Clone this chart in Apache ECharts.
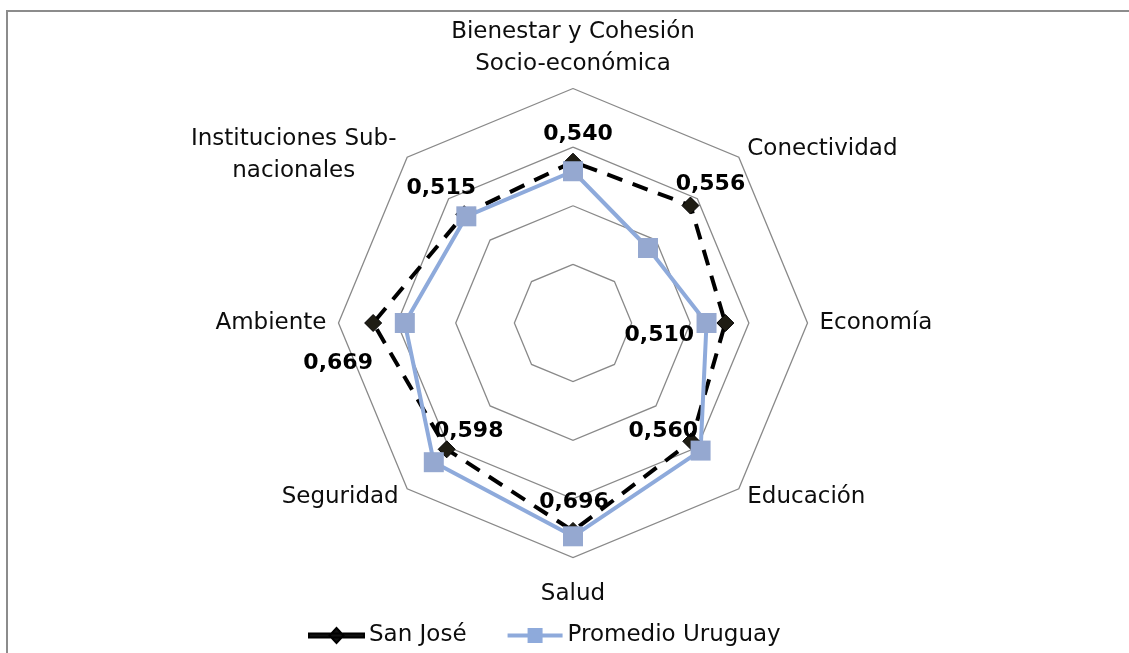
<!DOCTYPE html>
<html><head><meta charset="utf-8">
<script src="https://cdn.jsdelivr.net/npm/echarts@6/dist/echarts.min.js"></script>
<style>html,body{margin:0;padding:0;background:#fff}#c{width:1129px;height:653px}</style>
</head><body><div id="c"></div>
<script>
// Data (clockwise from top, as in the reference)
const categories = ['Bienestar y Cohesión\nSocio-económica', 'Conectividad', 'Economía', 'Educación', 'Salud', 'Seguridad', 'Ambiente', 'Instituciones Sub-\nnacionales'];
const sanJose = [0.540, 0.556, 0.510, 0.560, 0.696, 0.598, 0.669, 0.515];
const promedioUruguay = [0.508, 0.355, 0.447, 0.604, 0.714, 0.659, 0.563, 0.505];
const seriesNames = ['San José', 'Promedio Uruguay'];
const axisMax = 0.785;

// Styles / label placement (offsets of each San José label from its marker, clockwise order)
const labelOffsets = [[5, -27], [20, -21], [-66, 12], [-28, -10], [1, -29], [22, -18], [-35, 40], [-23, -26]];
const FONT = 'DejaVu Sans';
const NAME_SIZE = 23;
const TXT = '#0d0d0d';

// ECharts lays indicators counter-clockwise: reorder
const order = [0, 7, 6, 5, 4, 3, 2, 1];
const fmt = v => v.toFixed(3).replace('.', ',');
const labelTexts = sanJose.map(fmt);

function nameFormatter(name) {
  const idx = categories.indexOf(name);
  const lines = name.split('\n');
  if (idx === 0) return '{t1|' + lines[0] + '}\n{t2|' + lines[1] + '}';
  if (idx === 7) return '{i1|' + lines[0] + '}\n{i2|' + lines[1] + '}';
  if (idx === 4) return '{s|' + name + '}';
  return name;
}
const rs = (o) => Object.assign({fontSize: NAME_SIZE, fontFamily: FONT, color: TXT}, o);

const chart = echarts.init(document.getElementById('c'), null, {renderer: 'canvas'});
chart.setOption({
  backgroundColor: '#ffffff',
  animation: false,
  graphic: [{
    type: 'rect', silent: true, z: 100,
    shape: {x: 7, y: 11, width: 1300, height: 800},
    style: {fill: 'none', stroke: '#8c8c8c', lineWidth: 2}
  }],
  legend: {
    top: 619, left: 303,
    itemWidth: 55, itemHeight: 16, itemGap: 41,
    textStyle: {fontSize: NAME_SIZE, fontFamily: FONT, color: TXT},
    data: [
      {name: seriesNames[0], icon: 'path://M0,6 L55,6 L55,10 L0,10 Z M27.5,0.5 L34.5,8 L27.5,15.5 L20.5,8 Z', itemStyle: {color: '#111'}},
      {name: seriesNames[1], icon: 'path://M0,6 L55,6 L55,10 L0,10 Z M20,0.5 L35,0.5 L35,15.5 L20,15.5 Z', itemStyle: {color: '#8eaadb'}}
    ]
  },
  radar: {
    center: [573, 323],
    radius: 234.5,
    startAngle: 90,
    shape: 'polygon',
    splitNumber: 4,
    nameGap: 12,
    indicator: order.map(i => ({name: categories[i], min: 0, max: axisMax})),
    axisName: {
      color: TXT, fontSize: NAME_SIZE, fontFamily: FONT, lineHeight: 32,
      formatter: nameFormatter,
      rich: {
        t1: rs({align: 'center', lineHeight: 40}),
        t2: rs({align: 'center', lineHeight: 24}),
        i1: rs({align: 'center', width: 210, lineHeight: 44}),
        i2: rs({align: 'center', width: 210, lineHeight: 20}),
        s: rs({lineHeight: 50})
      }
    },
    splitLine: {lineStyle: {color: '#898989', width: 1.3}},
    splitArea: {show: false},
    axisLine: {show: false},
    axisTick: {show: false},
    axisLabel: {show: false}
  },
  series: [
    {
      type: 'radar', name: seriesNames[0],
      symbol: 'diamond', symbolSize: 17,
      itemStyle: {color: '#1f1d14', borderColor: '#000', borderWidth: 1},
      lineStyle: {color: '#000', width: 4, type: [16, 11]},
      label: {
        show: true, position: 'inside',
        fontSize: 22, fontWeight: 'bold', fontFamily: FONT, color: '#000',
        formatter: p => fmt(p.value)
      },
      labelLayout: function (params) {
        const i = labelTexts.indexOf(params.text);
        const o = labelOffsets[i] || [0, 0];
        return {dx: o[0], dy: o[1]};
      },
      data: [{name: seriesNames[0], value: order.map(i => sanJose[i])}]
    },
    {
      type: 'radar', name: seriesNames[1],
      symbol: 'rect', symbolSize: 20,
      itemStyle: {color: '#95a8d0'},
      lineStyle: {color: '#8eaadb', width: 4},
      label: {show: false},
      data: [{name: seriesNames[1], value: order.map(i => promedioUruguay[i])}]
    }
  ]
});
</script>
</body></html>
